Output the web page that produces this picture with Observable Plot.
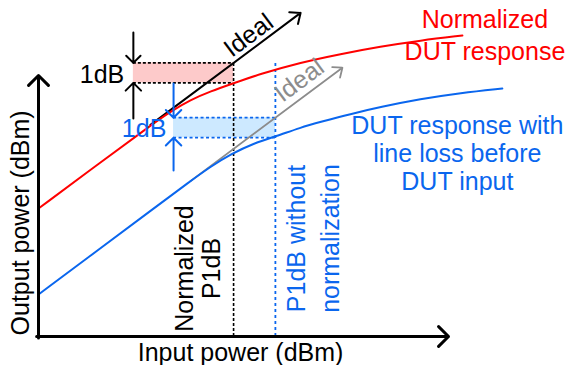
<!DOCTYPE html>
<html>
<head>
<meta charset="utf-8">
<script src="https://cdn.jsdelivr.net/npm/d3@7"></script>
<script src="https://cdn.jsdelivr.net/npm/@observablehq/plot@0.6"></script>
<style>
  body { margin: 0; background: #fff; }
  #chart svg { display: block; }
</style>
</head>
<body>
<div id="chart"></div>
<script>
// ---- data (input power dB, output power dB; arbitrary origin) ----
const normIn  = [0, 2.31, 4.18, 4.93, 5.67, 6.42, 7.28, 8.28, 9.78, 11.27, 12.76, 14.25, 15.82];
const normOut = [6.4, 8.7, 10.55, 11.25, 11.83, 12.26, 12.66, 13.13, 13.7, 14.125, 14.5, 14.8, 15.05];
const lossIn  = [0, 2.31, 4.18, 5.67, 6.42, 7.16, 8.10, 8.84, 9.78, 10.52, 11.64, 12.76, 14.25, 15.75, 17.31];
const lossOut = [2.1, 4.41, 6.28, 7.77, 8.49, 9.11, 9.7, 10.0, 10.45, 10.725, 11.125, 11.475, 11.875, 12.175, 12.4];
const normGain = 6.4;      // ideal (linear) response offset, normalized
const lossGain = 2.1;      // ideal (linear) response offset, with line loss
const p1dbNorm = 7.28;     // normalized P1dB input
const p1dbLoss = 8.84;     // P1dB input without normalization
const compressionDb = 1;
const idealNormRange = [4.18, 9.78];
const idealLossRange = [5.67, 11.34];
const xLabel = "Input power (dBm)";
const yLabel = "Output power (dBm)";
const normLabel = ["Normalized", "DUT response"];
const lossLabel = ["DUT response with", "line loss before", "DUT input"];
const p1dbNormLabel = ["Normalized", "P1dB"];
const p1dbLossLabel = ["P1dB without", "normalization"];

// ---- styles ----
const RED = "#ff0000", BLUE = "#0a66ee", GRAY = "#8c8c8c";
const FONT = "'Liberation Sans', Arial, sans-serif";
const FS = 25;

const norm = normIn.map((x, i) => ({x, y: normOut[i]}));
const loss = lossIn.map((x, i) => ({x, y: lossOut[i]}));
const topN = p1dbNorm + normGain, botN = topN - compressionDb;
const topL = p1dbLoss + lossGain, botL = topL - compressionDb;
const boxN = {x1: 3.54, x2: p1dbNorm, y1: botN, y2: topN};
const boxL = {x1: 5.04, x2: p1dbLoss, y1: botL, y2: topL};

const txt = (items, opts) => Plot.text(items, {x: "x", y: "y", text: "t", fontFamily: FONT, fontSize: FS, textAnchor: "middle", lineAnchor: "middle", ...opts});

const chart = Plot.plot({
  width: 569,
  height: 365,
  marginLeft: 38,
  marginRight: 121,
  marginTop: 76,
  marginBottom: 29,
  x: {domain: [0, 15.3], axis: null},
  y: {domain: [0, 13], axis: null},
  style: {fontFamily: FONT, background: "#fff", overflow: "visible"},
  marks: [
    // shaded 1 dB boxes
    Plot.rect([boxN], {x1: "x1", x2: "x2", y1: "y1", y2: "y2", fill: "#fdcaca"}),
    Plot.rect([boxL], {x1: "x1", x2: "x2", y1: "y1", y2: "y2", fill: "#cde9ff"}),
    // dashed box edges
    Plot.ruleY([topN, botN], {x1: boxN.x1, x2: boxN.x2, stroke: "#000", strokeWidth: 1.6, strokeDasharray: "3,2"}),
    Plot.ruleY([topL, botL], {x1: boxL.x1, x2: boxL.x2, stroke: BLUE, strokeWidth: 1.8, strokeDasharray: "3,2.5"}),
    // P1dB verticals
    Plot.ruleX([p1dbNorm], {y1: 0, y2: topN, stroke: "#000", strokeWidth: 1.6, strokeDasharray: "3,2"}),
    Plot.ruleX([p1dbLoss], {y1: 0, y2: 13.8, stroke: BLUE, strokeWidth: 1.8, strokeDasharray: "3,3"}),
    // ideal lines
    Plot.arrow([0], {x1: idealNormRange[0], y1: idealNormRange[0] + normGain, x2: idealNormRange[1], y2: idealNormRange[1] + normGain, stroke: "#000", strokeWidth: 2, headLength: 8.5, headAngle: 80}),
    Plot.arrow([0], {x1: idealLossRange[0], y1: idealLossRange[0] + lossGain, x2: idealLossRange[1], y2: idealLossRange[1] + lossGain, stroke: GRAY, strokeWidth: 1.8, headLength: 8.5, headAngle: 80}),
    // responses
    Plot.line(loss, {x: "x", y: "y", curve: "basis", stroke: BLUE, strokeWidth: 2}),
    Plot.line(norm, {x: "x", y: "y", curve: "basis", stroke: RED, strokeWidth: 2}),
    // 1 dB arrows
    Plot.arrow([0], {x1: boxN.x1, x2: boxN.x1, y1: 15.2, y2: topN, stroke: "#000", strokeWidth: 2, headLength: 8.2, headAngle: 90}),
    Plot.arrow([0], {x1: boxN.x1, x2: boxN.x1, y1: 10.9, y2: botN, stroke: "#000", strokeWidth: 2, headLength: 8.2, headAngle: 90}),
    Plot.arrow([0], {x1: boxL.x1, x2: boxL.x1, y1: 12.65, y2: topL, stroke: BLUE, strokeWidth: 2, headLength: 8.2, headAngle: 90}),
    Plot.arrow([0], {x1: boxL.x1, x2: boxL.x1, y1: 8.3, y2: botL, stroke: BLUE, strokeWidth: 2, headLength: 8.2, headAngle: 90}),
    // axes
    Plot.arrow([0], {x1: 0, x2: 0, y1: -0.07, y2: 13.05, stroke: "#000", strokeWidth: 3, headLength: 7, headAngle: 90}),
    Plot.arrow([0], {x1: -0.07, x2: 15.3, y1: 0, y2: 0, stroke: "#000", strokeWidth: 3, headLength: 7, headAngle: 90}),
    // texts
    txt([{x: 2.37, y: 13.1, t: "1dB"}], {fill: "#000"}),
    txt([{x: 3.94, y: 10.4, t: "1dB"}], {fill: BLUE}),
    txt([{x: 7.84, y: 15.05, t: "Ideal"}], {fill: "#000", rotate: -36.7}),
    txt([{x: 9.74, y: 12.8, t: "Ideal"}], {fill: GRAY, rotate: -36.7}),
    txt([{x: 5.45, y: 3.4, t: p1dbNormLabel[0]}, {x: 6.49, y: 3.4, t: p1dbNormLabel[1]}], {fill: "#000", rotate: -90}),
    txt([{x: 9.66, y: 4.9, t: p1dbLossLabel[0]}, {x: 10.9, y: 4.9, t: p1dbLossLabel[1]}], {fill: BLUE, rotate: -90}),
    txt([{x: 16.66, y: 15.83, t: normLabel[0]}, {x: 16.66, y: 14.22, t: normLabel[1]}], {fill: RED}),
    txt([{x: 15.63, y: 10.55, t: lossLabel[0]}, {x: 15.63, y: 9.15, t: lossLabel[1]}, {x: 15.63, y: 7.75, t: lossLabel[2]}], {fill: BLUE}),
    txt([{x: -0.67, y: 5.68, t: yLabel}], {fill: "#000", rotate: -90}),
    txt([{x: 7.54, y: -0.8, t: xLabel}], {fill: "#000"})
  ]
});
document.getElementById("chart").appendChild(chart);
</script>
</body>
</html>
